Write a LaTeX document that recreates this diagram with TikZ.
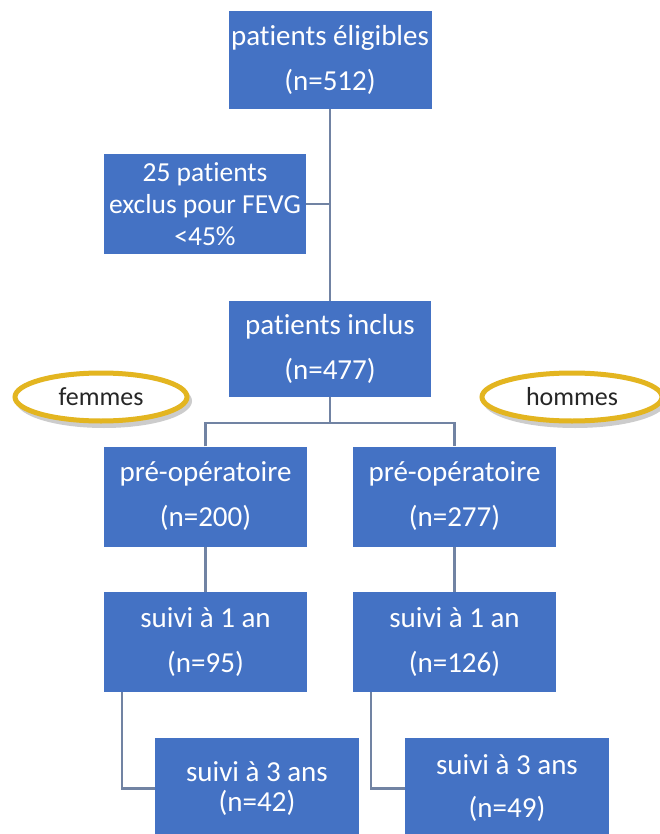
\documentclass[tikz,border=0pt]{standalone}
\usepackage{fontspec}
\setmainfont{Carlito}[Ligatures={NoCommon,NoDiscretionary,NoRare}]
\usetikzlibrary{shapes.geometric}
\definecolor{boxblue}{HTML}{4472C4}
\definecolor{linkgray}{HTML}{7183A3}
\definecolor{gold}{HTML}{E3B520}
\tikzset{
  flowbox/.style={rectangle, fill=boxblue, text=white, align=center,
    minimum width=203pt, minimum height=100pt, inner sep=0pt,
    font=\fontsize{29}{45}\selectfont},
  link/.style={draw=linkgray, line width=2.4pt},
  tag/.style={ellipse, draw=gold, line width=5pt, fill=white, inner sep=0pt,
    font=\fontsize{26}{30}\selectfont, text=black!85}
}
\begin{document}
\begin{tikzpicture}[x=1pt,y=-1pt]
\fill[white] (0,0) rectangle (660,834);
\clip (0,0) rectangle (660,834);
\useasboundingbox (0,0) rectangle (660,834);

\node[flowbox, minimum height=98pt] (top) at (330,60) {patients éligibles\\(n=512)};
\node[flowbox, minimum width=202pt, font=\fontsize{27.5}{32}\selectfont] (excl) at (205,204) {25 patients\\exclus pour FEVG\\<45\%};
\node[flowbox, minimum width=202pt, minimum height=96pt] (incl) at (330,349) {patients inclus\\(n=477)};
\node[flowbox] (preL) at (205.5,496.5) {pré-opératoire\\(n=200)};
\node[flowbox] (preR) at (454.5,496.5) {pré-opératoire\\(n=277)};
\node[flowbox] (s1L) at (205.5,642) {suivi à 1 an\\(n=95)};
\node[flowbox] (s1R) at (454.5,642) {suivi à 1 an\\(n=126)};
\node[flowbox, minimum width=204pt, minimum height=102pt] (s3L) at (257,788.5) {suivi à 3 ans\\[-15pt](n=42)};
\node[flowbox, minimum width=204pt, minimum height=102pt] (s3R) at (507,788.5) {suivi à 3 ans\\[-2pt](n=49)};

% ellipse shadows
\fill[black!20] (104,401) ellipse (88pt and 27pt);
\fill[black!20] (575,401) ellipse (92pt and 27pt);
\node[tag, minimum width=172pt, minimum height=48pt] (fem) at (101,397) {femmes};
\node[tag, minimum width=180pt, minimum height=48pt] (hom) at (572,397) {hommes};

% connectors
\draw[link] (top.south) -- (incl.north);
\draw[link] (excl.east) -- (excl.east -| top.south);
\coordinate (j) at ([yshift=-26pt]incl.south);
\draw[link] (incl.south) -- (j);
\draw[link] (preL.north) |- (j) -| (preR.north);
\draw[link] (preL.south) -- (s1L.north);
\draw[link] (preR.south) -- (s1R.north);
\draw[link] ([xshift=18pt]s1L.south west) |- (s3L.west);
\draw[link] ([xshift=18pt]s1R.south west) |- (s3R.west);
\end{tikzpicture}
\end{document}
